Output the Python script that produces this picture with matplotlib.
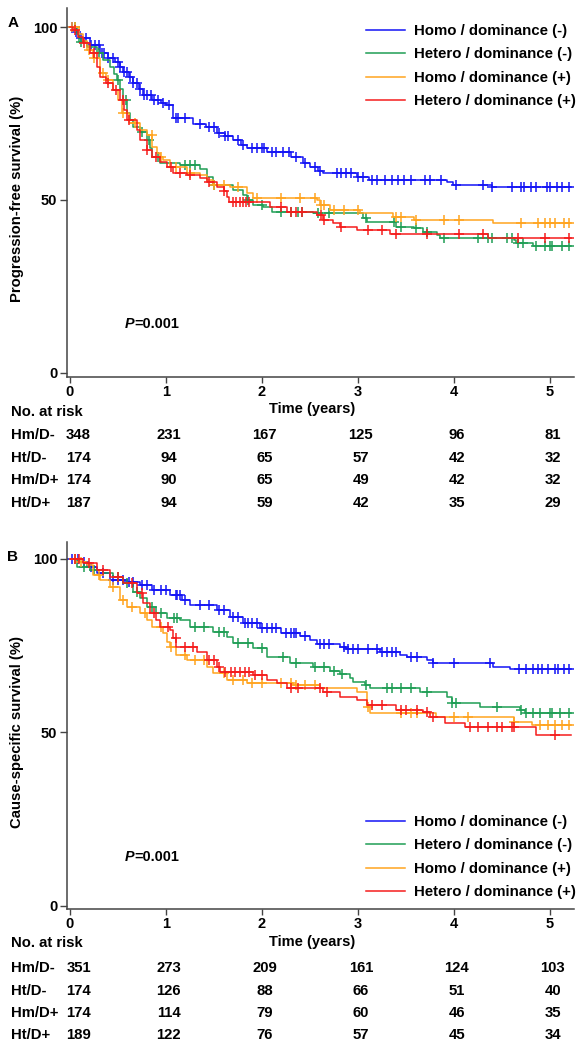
import numpy as np
import matplotlib
matplotlib.use('Agg')
import matplotlib.pyplot as plt
from matplotlib.transforms import blended_transform_factory

plt.rcParams['font.family'] = ['Liberation Sans', 'DejaVu Sans']
plt.rcParams['font.weight'] = 'bold'

groups = ['Homo / dominance (-)', 'Hetero / dominance (-)',
          'Homo / dominance (+)', 'Hetero / dominance (+)']
risk_labels = ['Hm/D-', 'Ht/D-', 'Hm/D+', 'Ht/D+']
colors = ['#1414f5', '#1f9e55', '#ffa41f', '#f51c1c']
risk_times = [0, 1, 2, 3, 4, 5]
t_end = 5.22

# ---------------- Panel A: progression-free survival ----------------
pfs_hm_dn_t = [0, 0.06, 0.1, 0.21, 0.31, 0.4, 0.47, 0.52, 0.55, 0.62, 0.66, 0.72, 0.76, 0.86, 0.95,
               1.0, 1.07, 1.28, 1.42, 1.53, 1.62, 1.7, 1.78, 1.84, 2.05, 2.3, 2.43, 2.5, 2.58, 2.64,
               2.99, 3.12, 3.93, 3.99, 4.4]
pfs_hm_dn_s = [100, 98.5, 96.8, 94.8, 92.5, 91, 90, 88.5, 87, 85.5, 83.8, 82, 80.3, 79, 78,
               77.5, 73.7, 72, 71, 69.4, 68.5, 67.3, 66, 65, 63.9, 62.4, 60.7, 59.5, 58.5, 57.8,
               56.6, 55.8, 55.2, 54.3, 53.7]
pfs_ht_dn_t = [0, 0.07, 0.1, 0.18, 0.28, 0.34, 0.42, 0.46, 0.49, 0.52, 0.55, 0.59, 0.63, 0.66, 0.73,
               0.8, 0.83, 0.86, 0.94, 1.15, 1.35, 1.43, 1.49, 1.7, 1.8, 1.84, 1.91, 2.01, 2.11, 2.53,
               3.05, 3.09, 3.4, 3.58, 3.68, 3.82, 3.85, 4.62, 4.65, 4.82]
pfs_ht_dn_s = [100, 98, 95.7, 94.2, 92.5, 90.5, 88.4, 86.5, 84.7, 82, 79, 75, 73, 71, 69.7,
               67.3, 65, 62.4, 60.7, 60, 59, 56.6, 54.3, 52.9, 51.5, 50, 48.6, 48, 46.5, 46.2,
               44.8, 43.6, 42.2, 41.9, 40.8, 39.9, 39, 38.4, 37.6, 36.7]
pfs_hm_dp_t = [0, 0.1, 0.14, 0.18, 0.24, 0.31, 0.38, 0.45, 0.5, 0.54, 0.62, 0.73, 0.8, 0.86, 0.91,
               0.94, 0.97, 1.04, 1.22, 1.35, 1.43, 1.49, 1.67, 1.84, 1.91, 2.57, 2.6, 2.71, 3.02,
               3.36, 3.58, 4.41]
pfs_hm_dp_s = [100, 98, 96, 93.4, 91, 86.7, 84.7, 81.8, 78.9, 75.1, 72.3, 70.2, 68.8, 65.3, 63.6,
               62.4, 61.6, 59.5, 57.8, 57.2, 55.8, 54.3, 53.8, 52, 50.6, 50, 48.6, 47.1, 46.2,
               45.1, 44.2, 43.4]
pfs_ht_dp_t = [0, 0.03, 0.08, 0.14, 0.21, 0.28, 0.31, 0.38, 0.45, 0.52, 0.56, 0.6, 0.7, 0.73, 0.8,
               0.86, 0.94, 1.01, 1.07, 1.22, 1.35, 1.43, 1.53, 1.6, 1.64, 1.66, 2.08, 2.26, 2.57,
               2.64, 2.74, 2.81, 2.99, 3.33, 4.35]
pfs_ht_dp_s = [100, 99, 97, 95.4, 92.5, 88.4, 85.5, 83.8, 81.8, 78.9, 76, 73.1, 70.2, 67.3, 64.5,
               62.4, 61, 59.5, 57.8, 57.2, 56.4, 55.2, 53.8, 52.5, 50.9, 49.4, 48, 46.5, 45.7,
               44.2, 43.4, 42.2, 41.3, 40.2, 39]

pfs_hm_dn_cens = [0.02, 0.06, 0.12, 0.17, 0.22, 0.26, 0.3, 0.33, 0.36, 0.4, 0.45, 0.5, 0.52, 0.56,
                  0.6, 0.63, 0.66, 0.7, 0.73, 0.77, 0.8, 0.84, 0.88, 0.92, 0.97, 1.03, 1.1, 1.13,
                  1.2, 1.35, 1.45, 1.5, 1.55, 1.62, 1.65, 1.75, 1.8, 1.9, 1.95, 2.0, 2.02, 2.1,
                  2.15, 2.22, 2.28, 2.36, 2.45, 2.55, 2.6, 2.78, 2.82, 2.88, 2.93, 3.0, 3.05, 3.15,
                  3.2, 3.28, 3.35, 3.42, 3.48, 3.55, 3.7, 3.75, 3.86, 4.02, 4.3, 4.4, 4.6, 4.7,
                  4.73, 4.8, 4.85, 4.97, 5.0, 5.07, 5.12, 5.2]
pfs_ht_dn_cens = [0.05, 0.12, 0.3, 0.5, 0.58, 0.75, 0.82, 0.92, 1.2, 1.25, 1.3, 1.5, 1.85, 2.0,
                  2.2, 2.3, 2.38, 2.42, 2.58, 2.7, 3.08, 3.38, 3.45, 3.6, 3.72, 3.9, 4.25, 4.35,
                  4.4, 4.55, 4.6, 4.67, 4.72, 4.85, 4.95, 5.0, 5.02, 5.12, 5.2]
pfs_hm_dp_cens = [0.02, 0.05, 0.2, 0.25, 0.35, 0.4, 0.55, 0.68, 0.85, 0.95, 1.1, 1.25, 1.5, 1.6,
                  1.75, 1.95, 2.2, 2.4, 2.55, 2.62, 2.65, 2.75, 2.85, 3.0, 3.4, 3.45, 3.6, 3.9,
                  4.05, 4.7, 4.87, 4.95, 5.0, 5.05, 5.15, 5.2]
pfs_ht_dp_cens = [0.05, 0.15, 0.25, 0.4, 0.48, 0.55, 0.62, 0.8, 0.9, 1.05, 1.15, 1.25, 1.45, 1.6,
                  1.7, 1.73, 1.77, 1.8, 1.83, 1.87, 2.2, 2.3, 2.35, 2.42, 2.62, 2.65, 2.82, 3.1,
                  3.25, 3.4, 3.72, 4.05, 4.3, 4.67, 4.95, 5.2]

pfs_risk_hm_dn = [348, 231, 167, 125, 96, 81]
pfs_risk_ht_dn = [174, 94, 65, 57, 42, 32]
pfs_risk_hm_dp = [174, 90, 65, 49, 42, 32]
pfs_risk_ht_dp = [187, 94, 59, 42, 35, 29]

# ---------------- Panel B: cause-specific survival ----------------
css_hm_dn_t = [0, 0.1, 0.18, 0.28, 0.42, 0.59, 0.73, 0.86, 1.04, 1.17, 1.25, 1.53, 1.67, 1.8, 1.98,
               2.2, 2.4, 2.5, 2.57, 2.81, 2.88, 3.23, 3.44, 3.51, 3.72, 3.78, 4.41, 4.58]
css_hm_dn_s = [100, 99, 97.7, 96, 94, 93.4, 92.5, 91, 89.6, 88.2, 86.7, 85.3, 83.3, 81.6, 80.1,
               78.6, 77.8, 76.7, 75.5, 74.6, 74, 73.2, 72.3, 71.8, 70.9, 70, 68.9, 68.3]
css_ht_dn_t = [0, 0.07, 0.21, 0.34, 0.45, 0.55, 0.66, 0.73, 0.8, 0.9, 1.01, 1.15, 1.25, 1.49, 1.64,
               1.7, 1.91, 2.05, 2.29, 2.53, 2.71, 2.81, 2.92, 2.95, 3.07, 3.13, 3.65, 3.93, 3.98,
               4.27, 4.69, 4.74]
css_ht_dn_s = [100, 97.7, 96.8, 96, 94.8, 93.1, 90.5, 88.8, 86.2, 84.4, 83, 82.4, 80.4, 79, 77.5,
               75.8, 74.4, 71.8, 70, 68.9, 67.7, 66.9, 65.7, 64.6, 63.7, 62.8, 61.7, 60.2, 58.5,
               57.3, 56.5, 55.6]
css_hm_dp_t = [0, 0.1, 0.18, 0.24, 0.31, 0.42, 0.52, 0.59, 0.73, 0.8, 0.86, 0.97, 1.01, 1.04, 1.11,
               1.22, 1.43, 1.49, 1.64, 1.84, 2.32, 2.6, 2.99, 3.09, 3.13, 3.81, 4.62, 4.81]
css_hm_dp_s = [100, 99, 98.3, 95.4, 94, 91.9, 88.2, 86.2, 84.4, 82.4, 80.4, 78.7, 76.1, 74.6, 72.3,
               70.9, 68.9, 67.1, 65.1, 64.3, 63.7, 62.8, 61.7, 57.3, 55.6, 54.5, 53, 52.2]
css_ht_dp_t = [0, 0.14, 0.28, 0.42, 0.55, 0.7, 0.76, 0.83, 0.9, 0.94, 1.04, 1.07, 1.11, 1.32, 1.43,
               1.53, 1.56, 1.91, 2.05, 2.16, 2.26, 2.64, 2.81, 2.99, 3.09, 3.4, 3.68, 3.75, 3.91,
               4.12, 4.85]
css_ht_dp_s = [100, 98.8, 96.8, 94.8, 93.1, 90.2, 87.3, 84.4, 82.4, 80.4, 79.5, 77.2, 74.6, 73.2,
               70.9, 68.9, 67.4, 66.6, 65.1, 64.3, 62.8, 61.7, 60.2, 59.4, 57.9, 56.5, 55.9, 54.5,
               52.7, 51.6, 49.3]

css_hm_dn_cens = [0.02, 0.08, 0.15, 0.22, 0.35, 0.45, 0.5, 0.55, 0.62, 0.66, 0.75, 0.8, 0.88, 0.95,
                  1.0, 1.1, 1.12, 1.15, 1.2, 1.35, 1.45, 1.55, 1.6, 1.7, 1.75, 1.82, 1.85, 1.9,
                  1.95, 2.0, 2.05, 2.1, 2.15, 2.25, 2.3, 2.33, 2.36, 2.45, 2.6, 2.65, 2.7, 2.85,
                  2.9, 2.95, 3.0, 3.1, 3.2, 3.25, 3.3, 3.35, 3.4, 3.55, 3.62, 3.78, 4.0, 4.38,
                  4.68, 4.75, 4.82, 4.87, 4.92, 4.98, 5.05, 5.08, 5.15, 5.2]
css_ht_dn_cens = [0.05, 0.15, 0.25, 0.5, 0.6, 0.7, 0.85, 0.95, 1.08, 1.12, 1.3, 1.4, 1.55, 1.6,
                  1.75, 1.85, 2.0, 2.22, 2.35, 2.55, 2.65, 2.75, 2.83, 3.08, 3.3, 3.35, 3.45,
                  3.55, 3.72, 3.98, 4.02, 4.45, 4.7, 4.75, 4.82, 4.9, 5.0, 5.02, 5.1, 5.2]
css_hm_dp_cens = [0.05, 0.12, 0.3, 0.45, 0.55, 0.65, 0.78, 0.95, 1.05, 1.2, 1.3, 1.4, 1.6, 1.7,
                  1.8, 1.9, 2.0, 2.2, 2.3, 2.35, 2.45, 2.55, 3.1, 3.45, 3.55, 3.62, 4.0, 4.15,
                  4.62, 4.9, 4.98, 5.05, 5.12, 5.2]
css_ht_dp_cens = [0.05, 0.1, 0.2, 0.35, 0.5, 0.65, 0.75, 0.88, 1.02, 1.1, 1.2, 1.28, 1.45, 1.5,
                  1.55, 1.62, 1.68, 1.72, 1.77, 1.82, 1.87, 1.93, 2.0, 2.3, 2.38, 2.6, 2.68, 3.15,
                  3.25, 3.45, 3.5, 3.62, 3.72, 3.78, 4.17, 4.25, 4.35, 4.45, 4.5, 4.6, 4.62, 5.05]

css_risk_hm_dn = [351, 273, 209, 161, 124, 103]
css_risk_ht_dn = [174, 126, 88, 66, 51, 40]
css_risk_hm_dp = [174, 114, 79, 60, 46, 35]
css_risk_ht_dp = [189, 122, 76, 57, 45, 34]

p_text = '=0.001'

W, H = 586, 1050
fig = plt.figure(figsize=(W / 100, H / 100), dpi=100)


def fx(px):
    return px / W


def fy(py):
    return 1 - py / H


def draw_panel(top_px, bot_px, curves, cens, risks, ylabel, letter, ylim, p_y,
               legend_y, table_rows, time_y, tick_fs=10.5):
    ax = fig.add_axes([fx(67), fy(bot_px), fx(574) - fx(67), (bot_px - top_px) / H])
    handles = []
    for (t, s), c_t, col, lab in zip(curves, cens, colors, groups):
        t = np.asarray(t, float)
        s = np.asarray(s, float)
        tt = np.append(t, t_end)
        ss = np.append(s, s[-1])
        ln, = ax.step(tt, ss, where='post', color=col, lw=1.1, label=lab)
        handles.append(ln)
        ct = np.asarray(c_t, float)
        idx = np.searchsorted(t, ct, side='right') - 1
        ax.plot(ct, s[idx], ls='none', marker='+', ms=6.5, mew=1.1, color=col)
    ax.set_xlim(-0.03, 5.25)
    ax.set_ylim(*ylim)
    for sp in ['top', 'right']:
        ax.spines[sp].set_visible(False)
    for sp in ['left', 'bottom']:
        ax.spines[sp].set_color('#444444')
        ax.spines[sp].set_linewidth(1.1)
    ax.set_xticks(risk_times)
    ax.set_yticks([0, 50, 100])
    ax.tick_params(axis='y', length=5, width=1, color='#444444', pad=2, labelsize=tick_fs)
    ax.tick_params(axis='x', length=4, width=1, color='#444444', pad=2, labelsize=tick_fs)
    for lbl in ax.get_xticklabels() + ax.get_yticklabels():
        lbl.set_fontweight('bold')
    fig.text(fx(17), fy((top_px + bot_px) / 2 + 6), ylabel, rotation=90, ha='center', va='center',
             fontsize=10.7, fontweight='bold')
    fig.text(fx(13), fy(top_px + 15), letter, ha='center', va='center', fontsize=11, fontweight='bold')
    fig.text(fx(125), fy(p_y), 'P', ha='left', va='center', fontsize=10.4,
             fontweight='bold', fontstyle='italic')
    fig.text(fx(134), fy(p_y), p_text, ha='left', va='center', fontsize=10.4, fontweight='bold')
    ax.legend(handles=handles, loc='upper left', bbox_to_anchor=(fx(366), fy(legend_y)),
              bbox_transform=fig.transFigure, frameon=False,
              handlelength=2.6, handletextpad=0.6, labelspacing=0.63, borderpad=0,
              borderaxespad=0, prop={'weight': 'bold', 'size': 10.8})
    fig.text(fx(312), fy(time_y), 'Time (years)', ha='center', va='center', fontsize=10.5,
             fontweight='bold')
    tr = blended_transform_factory(ax.transData, fig.transFigure)
    fig.text(fx(11), fy(table_rows[0]), 'No. at risk', ha='left', va='center', fontsize=10.7,
             fontweight='bold')
    for lab, vals, ry in zip(risk_labels, risks, table_rows[1:]):
        fig.text(fx(11), fy(ry), lab, ha='left', va='center', fontsize=10.7, fontweight='bold')
        for k, (tm, v) in enumerate(zip(risk_times, vals)):
            xx = tm + (0.09 if k == 0 else 0.03)
            ax.text(xx, fy(ry), str(v), transform=tr, ha='center', va='center',
                    fontsize=10.7, fontweight='bold')
    return ax


pfs_curves = [(pfs_hm_dn_t, pfs_hm_dn_s), (pfs_ht_dn_t, pfs_ht_dn_s),
              (pfs_hm_dp_t, pfs_hm_dp_s), (pfs_ht_dp_t, pfs_ht_dp_s)]
pfs_cens = [pfs_hm_dn_cens, pfs_ht_dn_cens, pfs_hm_dp_cens, pfs_ht_dp_cens]
pfs_risks = [pfs_risk_hm_dn, pfs_risk_ht_dn, pfs_risk_hm_dp, pfs_risk_ht_dp]

css_curves = [(css_hm_dn_t, css_hm_dn_s), (css_ht_dn_t, css_ht_dn_s),
              (css_hm_dp_t, css_hm_dp_s), (css_ht_dp_t, css_ht_dp_s)]
css_cens = [css_hm_dn_cens, css_ht_dn_cens, css_hm_dp_cens, css_ht_dp_cens]
css_risks = [css_risk_hm_dn, css_risk_ht_dn, css_risk_hm_dp, css_risk_ht_dp]

draw_panel(8, 377, pfs_curves, pfs_cens, pfs_risks, 'Progression-free survival (%)', 'A',
           (-1.2, 105.5), 324, 24, [412, 435, 458, 480, 503], 409)
draw_panel(542, 909, css_curves, css_cens, css_risks, 'Cause-specific survival (%)', 'B',
           (-0.9, 104.9), 857, 815, [943, 968, 991, 1013, 1035], 942)

fig.savefig('out.png', dpi=100)
